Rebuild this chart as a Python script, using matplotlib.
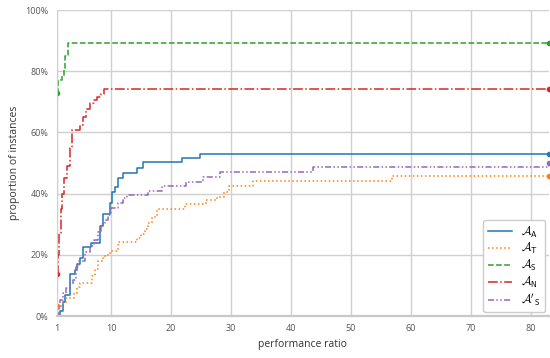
import matplotlib.pyplot as plt
from matplotlib.lines import Line2D
from matplotlib.ticker import PercentFormatter

plt.rcParams['font.family'] = ['Open Sans', 'DejaVu Sans']
plt.rcParams['mathtext.fontset'] = 'cm'

labels = [r'$\mathcal{A}_{\mathsf{A}}$', r'$\mathcal{A}_{\mathsf{T}}$',
          r'$\mathcal{A}_{\mathsf{S}}$', r'$\mathcal{A}_{\mathsf{N}}$',
          r"$\mathcal{A}'_{\mathsf{S}}$"]

a_x = [1, 1.45, 2.0, 2.4, 3.2, 4.05, 4.4, 4.8, 5.3, 6.7, 8.1, 8.6, 9.8, 10.2,
       10.6, 11.2, 12, 14.3, 15.3, 21.8, 24.8, 83]
a_y = [0, 1.7, 4.7, 7, 13.8, 15, 17, 19, 22.5, 24, 29.5, 33.2, 37, 40.5,
       42, 45, 46.8, 48.5, 50.2, 51.5, 53, 53]

t_x = [1, 2.0, 2.5, 3.9, 4.3, 4.8, 6.9, 7.4, 7.9, 8.6, 9.5, 10.0, 11.2, 14.3,
       15.0, 15.6, 16.2, 16.8, 17.6, 22.3, 25.9, 27.6, 28.8, 29.6, 33.7, 56.8, 83]
t_y = [3.3, 4.4, 5.8, 7.5, 9.6, 10.7, 13, 15.5, 18, 19.5, 20.5, 21.2, 24.3, 25.5,
       26.8, 28.5, 30.5, 32.5, 35, 36.6, 38, 39, 40.5, 42.6, 44.1, 45.6, 45.6]

s_x = [1, 1.2, 1.8, 2.1, 2.4, 2.9, 83]
s_y = [72.8, 77, 78.4, 80.4, 85, 89.3, 89.3]

n_x = [1, 1.15, 1.4, 1.6, 1.85, 2.2, 2.7, 3.1, 3.55, 4.9, 5.3, 5.9, 6.5, 7.1,
       7.6, 8.3, 8.8, 83]
n_y = [13.8, 20, 27, 35, 40, 45, 49, 55, 60.8, 62.5, 65, 67.5, 69.5, 70.5,
       71.5, 72.5, 74.3, 74.3]

s2_x = [1, 1.3, 1.55, 2.0, 2.5, 3.2, 3.7, 4.2, 4.7, 5.6, 6.5, 7.1, 7.8, 8.3,
        9.0, 9.5, 10.0, 11.2, 12.0, 12.6, 16.2, 18.5, 22.5, 25.4, 28.1, 43.7, 83]
s2_y = [0, 2.5, 5.2, 7.4, 9, 10.5, 11.8, 16, 18, 21, 23, 25, 27.6, 30,
        31.5, 33, 35.3, 37, 38.5, 39.6, 40.8, 42.6, 43.9, 45.5, 47.2, 48.6, 50.1]

series = [(a_x, a_y), (t_x, t_y), (s_x, s_y), (n_x, n_y), (s2_x, s2_y)]
colors = ['#1f77b4', '#ff7f0e', '#2ca02c', '#d62728', '#9467bd']
styles = ['-', ':', '--', '-.', (0, (4, 1.5, 1, 1.5, 1, 1.5))]

fig = plt.figure(figsize=(5.5, 3.58), dpi=100)
ax = fig.add_axes([0.1036, 0.1173, 0.8944, 0.8547])

handles = []
for (x, y), c, ls, lab in zip(series, colors, styles, labels):
    ax.plot(x, y, drawstyle='steps-post', color=c, linestyle=ls, lw=1.1,
            marker='o', markersize=3, markevery=[0, -1])
    handles.append(Line2D([], [], color=c, linestyle=ls, lw=1.1, label=lab))

ax.set_xlim(1, 83)
ax.set_ylim(0, 100)
ax.set_xticks([1, 10, 20, 30, 40, 50, 60, 70, 80])
ax.set_yticks([0, 20, 40, 60, 80, 100])
ax.yaxis.set_major_formatter(PercentFormatter(decimals=0))
ax.grid(True, color='#d0d0d0', lw=1)
ax.set_axisbelow(True)
for side in ['top', 'right']:
    ax.spines[side].set_visible(False)
ax.spines['left'].set_color('#d0d0d0')
ax.spines['bottom'].set_color('#c8c8c8')
ax.spines['bottom'].set_linewidth(1.6)
ax.tick_params(length=0, labelsize=6.5, labelcolor='#555555', pad=6)
ax.set_xlabel('performance ratio', fontsize=7.5, color='#333333')
ax.set_ylabel('proportion of instances', fontsize=7.5, color='#333333')

ax.legend(handles=handles, loc='lower right', fontsize=8.5, handlelength=2.0,
          framealpha=1, edgecolor='#cccccc', borderaxespad=0.3,
          labelspacing=0.15, borderpad=0.4)

fig.savefig('out.png', dpi=100)
